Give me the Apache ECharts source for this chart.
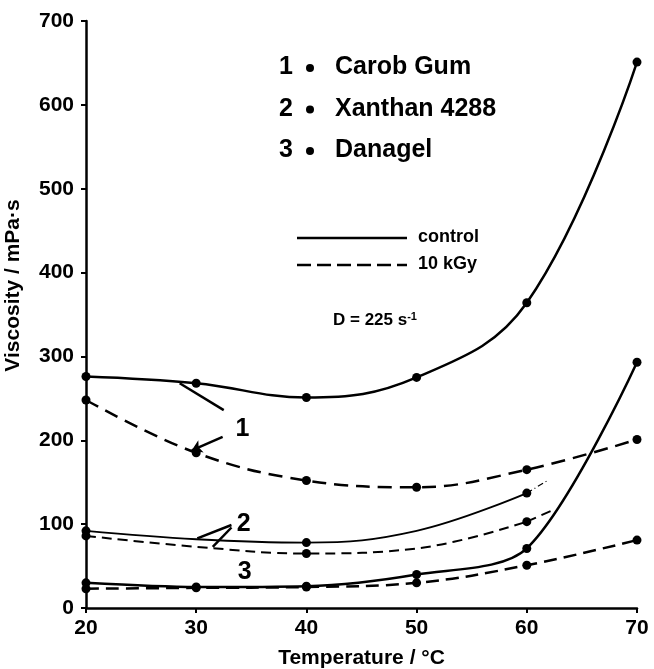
<!DOCTYPE html>
<html>
<head>
<meta charset="utf-8">
<script src="https://cdn.jsdelivr.net/npm/echarts@6/dist/echarts.min.js"></script>
<style>
  html, body { margin: 0; padding: 0; background: #fff; }
  #main { width: 654px; height: 669px; }
</style>
</head>
<body>
<div id="main"></div>
<script>
// temperatures (°C)
const temps = [20, 30, 40, 50, 60, 70];
const xanTemps = [20, 30, 40, 50, 60];
// 1 Carob Gum
const carobControl = [276, 268, 251, 275, 364, 651];
const carobIrr = [248, 185, 152, 144, 165, 201];
// 2 Xanthan 4288 (dots only at some temperatures)
const xanControl = [92, 82, 78, 92, 137];
const xanIrr = [86, 73, 65, 71, 103];
const xanDots = [20, 40, 60];
const xanControlTail = [[60, 137], [62, 153]];
const xanIrrTail = [[60, 103], [62.4, 117]];
// 3 Danagel
const danControl = [30, 25, 26, 40, 71, 293];
const danIrr = [23, 24, 25, 30, 51, 81];

// leader lines pointing from the curve numbers to the curves
const leaders = [
  [[28.5, 268], [32.5, 236]],
  [[33.2, 99], [30.1, 83]],
  [[33.2, 96], [31.5, 73]]
];
const arrow1 = [[32.4, 204], [29.6, 188]];
const curveLabels = [[34.2, 213, '1'], [34.3, 100, '2'], [34.4, 43, '3']];

const xTicks = [20, 30, 40, 50, 60, 70];
const yTicks = [0, 100, 200, 300, 400, 500, 600, 700];

const legendRows = [['1', 'Carob Gum'], ['2', 'Xanthan 4288'], ['3', 'Danagel']];

const FONT = '"Liberation Sans", Arial, sans-serif';

function pairs(xs, ys) {
  return xs.map((x, i) => [x, ys[i]]);
}
function dotted(xs, ys, dots) {
  return xs.map((x, i) => dots.indexOf(x) >= 0 ? [x, ys[i]] : { value: [x, ys[i]], symbol: 'none' });
}

const chart = echarts.init(document.getElementById('main'));

const lineBase = {
  type: 'line',
  symbol: 'circle',
  symbolSize: 9,
  itemStyle: { color: '#000' },
  z: 3
};

chart.setOption({
  animation: false,
  backgroundColor: '#fff',
  grid: { left: 86, right: 17, top: 21, bottom: 61, containLabel: false, outerBoundsMode: 'none' },
  xAxis: {
    type: 'value',
    min: 20, max: 70, interval: 10,
    name: 'Temperature / °C',
    nameLocation: 'middle',
    nameGap: 40,
    nameTextStyle: { color: '#000', fontFamily: FONT, fontWeight: 'bold', fontSize: 21 },
    axisLine: { lineStyle: { color: '#000', width: 2.5 } },
    axisTick: { length: 5, lineStyle: { color: '#000', width: 2 } },
    axisLabel: { color: '#000', fontFamily: FONT, fontWeight: 'bold', fontSize: 21, margin: 10,
      formatter: v => xTicks.indexOf(v) >= 0 ? String(v) : '' },
    splitLine: { show: false }
  },
  yAxis: {
    type: 'value',
    min: 0, max: 700, interval: 100,
    name: 'Viscosity / mPa·s',
    nameLocation: 'middle',
    nameGap: 62,
    nameTextStyle: { color: '#000', fontFamily: FONT, fontWeight: 'bold', fontSize: 21,
      padding: [0, 0, 0, 58] },
    axisLine: { lineStyle: { color: '#000', width: 2.5 } },
    axisTick: { length: 5, lineStyle: { color: '#000', width: 2 } },
    axisLabel: { color: '#000', fontFamily: FONT, fontWeight: 'bold', fontSize: 21, margin: 12,
      formatter: v => yTicks.indexOf(v) >= 0 ? String(v) : '' },
    splitLine: { show: false }
  },
  series: [
    Object.assign({}, lineBase, {
      name: 'Carob Gum control', data: pairs(temps, carobControl), smooth: 0.4,
      lineStyle: { color: '#000', width: 2.5 }
    }),
    Object.assign({}, lineBase, {
      name: 'Carob Gum 10 kGy', data: pairs(temps, carobIrr), smooth: 0.4,
      lineStyle: { color: '#000', width: 2.5, type: [14, 8] }
    }),
    Object.assign({}, lineBase, {
      name: 'Xanthan 4288 control', data: dotted(xanTemps, xanControl, xanDots), smooth: 0.4,
      lineStyle: { color: '#000', width: 1.8 }
    }),
    Object.assign({}, lineBase, {
      name: 'Xanthan 4288 10 kGy', data: dotted(xanTemps, xanIrr, xanDots), smooth: 0.4,
      lineStyle: { color: '#000', width: 2, type: [10, 6] }
    }),
    {
      type: 'line', data: xanControlTail, symbol: 'none',
      lineStyle: { color: '#000', width: 1.2, type: [6, 3, 1, 3] }
    },
    {
      type: 'line', data: xanIrrTail, symbol: 'none',
      lineStyle: { color: '#000', width: 2, type: [10, 6] }
    },
    Object.assign({}, lineBase, {
      name: 'Danagel control', data: pairs(temps, danControl), smooth: 0.3,
      lineStyle: { color: '#000', width: 2.5 }
    }),
    Object.assign({}, lineBase, {
      name: 'Danagel 10 kGy', data: pairs(temps, danIrr), smooth: 0.4,
      lineStyle: { color: '#000', width: 2.5, type: [13, 7] }
    }),
    {
      type: 'lines', coordinateSystem: 'cartesian2d',
      data: leaders.map(c => ({ coords: c })),
      lineStyle: { color: '#000', width: 2.5, opacity: 1 },
      symbol: 'none'
    },
    {
      type: 'lines', coordinateSystem: 'cartesian2d',
      data: [{ coords: arrow1 }],
      lineStyle: { color: '#000', width: 2.5, opacity: 1 },
      symbol: ['none', 'arrow'], symbolSize: 10
    },
    {
      type: 'scatter',
      data: curveLabels.map(d => ({ value: [d[0], d[1]], name: d[2] })),
      symbolSize: 0,
      itemStyle: { color: '#000', opacity: 1 },
      label: { show: true, position: 'inside', formatter: p => p.name,
        color: '#000', fontFamily: FONT, fontWeight: 'bold', fontSize: 25 }
    }
  ],
  graphic: [].concat(
    legendRows.map((r, i) => ({
      type: 'group', left: 279, top: 55 + i * 41.5,
      children: [
        { type: 'text', x: 2, y: 0, style: { text: r[0], fill: '#000', font: 'bold 25px ' + FONT } },
        { type: 'circle', shape: { cx: 33, cy: 13, r: 4 }, style: { fill: '#000' } },
        { type: 'text', x: 58, y: 0, style: { text: r[1], fill: '#000', font: 'bold 25px ' + FONT } }
      ]
    })),
    [
      { type: 'line', shape: { x1: 297, y1: 238, x2: 407, y2: 238 }, style: { stroke: '#000', lineWidth: 2.5 } },
      { type: 'line', shape: { x1: 297, y1: 265, x2: 407, y2: 265 }, style: { stroke: '#000', lineWidth: 2.5, lineDash: [14, 6] } },
      { type: 'text', x: 418, y: 228, style: { text: 'control', fill: '#000', font: 'bold 18px ' + FONT } },
      { type: 'text', x: 418, y: 255, style: { text: '10 kGy', fill: '#000', font: 'bold 18px ' + FONT } },
      { type: 'text', x: 333, y: 311, style: {
        text: '{a|D = 225 s}{b|-1}', fill: '#000',
        rich: {
          a: { font: 'bold 17px ' + FONT, fill: '#000' },
          b: { font: 'bold 11px ' + FONT, fill: '#000', verticalAlign: 'top', padding: [0, 0, 8, 0] }
        }
      } }
    ]
  )
});
</script>
</body>
</html>
